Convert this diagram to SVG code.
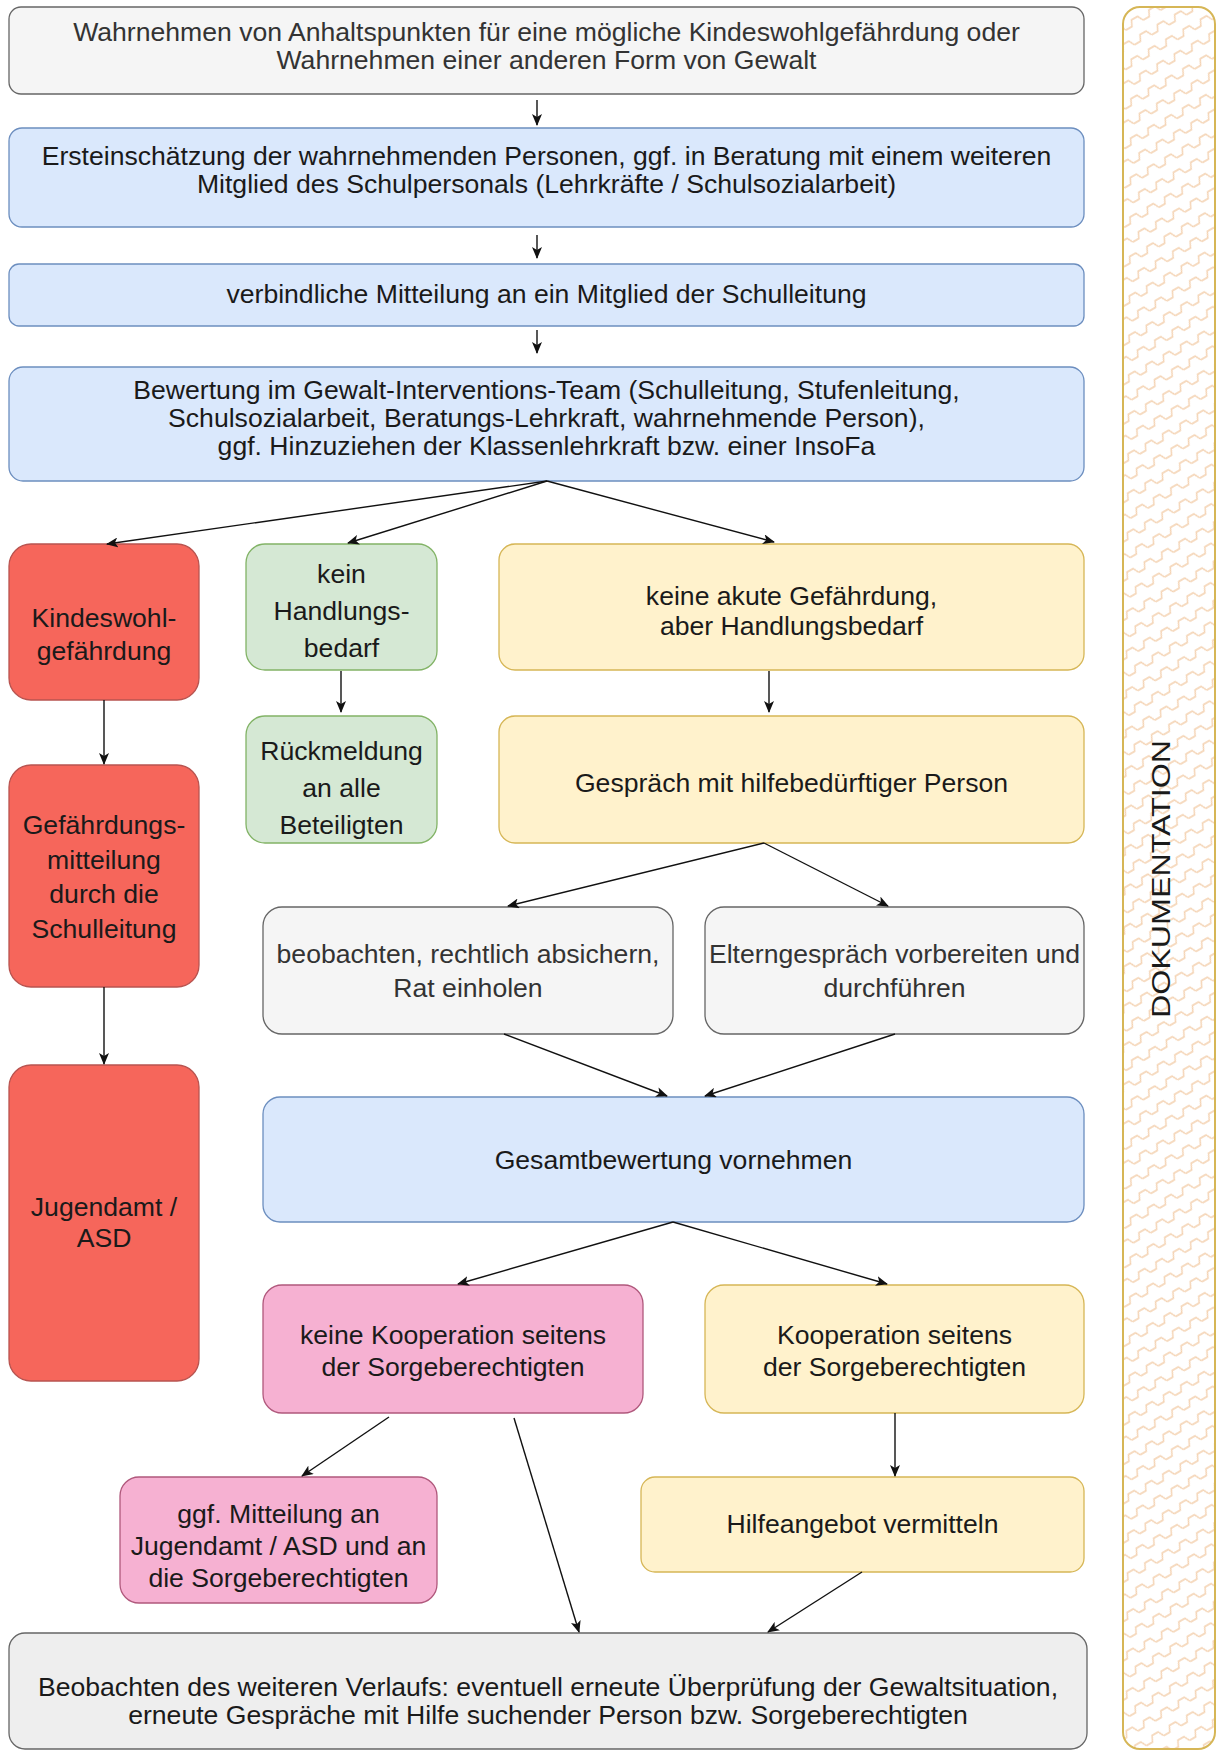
<svg xmlns="http://www.w3.org/2000/svg" width="1220" height="1754" viewBox="0 0 1220 1754">
<style>
  text { font-family: "Liberation Sans", Arial, Helvetica, sans-serif; font-size: 26.6px; text-anchor: middle; fill: #1a1a1a; }
  .gray rect { fill: #f5f5f5; stroke: #666666; stroke-width: 1.3; }
  .gray text { fill: #333333; }
  .gray2 rect { fill: #eeeeee; stroke: #666666; stroke-width: 1.3; }
  .blue rect { fill: #dae8fc; stroke: #6c8ebf; stroke-width: 1.3; }
  .red rect { fill: #f6665b; stroke: #b85450; stroke-width: 1.3; }
  .green rect { fill: #d5e8d4; stroke: #82b366; stroke-width: 1.3; }
  .yellow rect { fill: #fff2cc; stroke: #d6b656; stroke-width: 1.3; }
  .pink rect { fill: #f6b1d2; stroke: #b0587c; stroke-width: 1.3; }
  #connectors line { stroke: #111111; stroke-width: 1.4; fill: none; marker-end: url(#arr); }
</style>
<defs>
  <marker id="arr" viewBox="0 0 12 10" refX="11" refY="5" markerWidth="12" markerHeight="10" markerUnits="userSpaceOnUse" orient="auto">
    <path d="M0,0 L12,5 L0,10 L3,5 z" fill="#111111"/>
  </marker>
  <pattern id="zz" width="20" height="17" patternUnits="userSpaceOnUse" patternTransform="rotate(-30)">
    <path d="M0,11 L7,11 L10,5 L17,5 L20,11" fill="none" stroke="#f1c79e" stroke-width="1.3" opacity="0.85"/>
  </pattern>
</defs>
<rect x="0" y="0" width="1220" height="1754" fill="#ffffff"/>

<g id="doku">
  <rect x="1123" y="7" width="92" height="1742" rx="17" fill="#ffffff" stroke="none"/>
  <rect x="1123" y="7" width="92" height="1742" rx="17" fill="url(#zz)" stroke="#d6b656" stroke-width="2"/>
  <text transform="translate(1170,879) rotate(-90)" textLength="278" lengthAdjust="spacingAndGlyphs" style="font-size:26.6px">DOKUMENTATION</text>
</g>

<g id="n1" class="gray">
  <rect x="9" y="7" width="1075" height="87" rx="12"/>
  <text><tspan x="546.5" y="41">Wahrnehmen von Anhaltspunkten für eine mögliche Kindeswohlgefährdung oder</tspan><tspan x="546.5" y="69">Wahrnehmen einer anderen Form von Gewalt</tspan></text>
</g>
<g id="n2" class="blue">
  <rect x="9" y="128" width="1075" height="99" rx="13"/>
  <text><tspan x="546.5" y="164.5">Ersteinschätzung der wahrnehmenden Personen, ggf. in Beratung mit einem weiteren</tspan><tspan x="546.5" y="192.5">Mitglied des Schulpersonals (Lehrkräfte / Schulsozialarbeit)</tspan></text>
</g>
<g id="n3" class="blue">
  <rect x="9" y="264" width="1075" height="62" rx="10"/>
  <text x="546.5" y="303">verbindliche Mitteilung an ein Mitglied der Schulleitung</text>
</g>
<g id="n4" class="blue">
  <rect x="9" y="367" width="1075" height="114" rx="14"/>
  <text><tspan x="546.5" y="399">Bewertung im Gewalt-Interventions-Team (Schulleitung, Stufenleitung,</tspan><tspan x="546.5" y="427">Schulsozialarbeit, Beratungs-Lehrkraft, wahrnehmende Person),</tspan><tspan x="546.5" y="455">ggf. Hinzuziehen der Klassenlehrkraft bzw. einer InsoFa</tspan></text>
</g>

<g id="n5" class="red">
  <rect x="9" y="544" width="190" height="156" rx="22"/>
  <text><tspan x="104" y="627">Kindeswohl-</tspan><tspan x="104" y="660">gefährdung</tspan></text>
</g>
<g id="n6" class="green">
  <rect x="246" y="544" width="191" height="126" rx="19"/>
  <text><tspan x="341.5" y="582.5">kein</tspan><tspan x="341.5" y="619.5">Handlungs-</tspan><tspan x="341.5" y="656.5">bedarf</tspan></text>
</g>
<g id="n7" class="yellow">
  <rect x="499" y="544" width="585" height="126" rx="16"/>
  <text><tspan x="791.5" y="605">keine akute Gefährdung,</tspan><tspan x="791.5" y="635">aber Handlungsbedarf</tspan></text>
</g>
<g id="n8" class="red">
  <rect x="9" y="765" width="190" height="222" rx="22"/>
  <text><tspan x="104" y="834">Gefährdungs-</tspan><tspan x="104" y="868.5">mitteilung</tspan><tspan x="104" y="903">durch die</tspan><tspan x="104" y="937.5">Schulleitung</tspan></text>
</g>
<g id="n9" class="green">
  <rect x="246" y="716" width="191" height="127" rx="19"/>
  <text><tspan x="341.5" y="760">Rückmeldung</tspan><tspan x="341.5" y="797">an alle</tspan><tspan x="341.5" y="834">Beteiligten</tspan></text>
</g>
<g id="n10" class="yellow">
  <rect x="499" y="716" width="585" height="127" rx="16"/>
  <text x="791.5" y="792">Gespräch mit hilfebedürftiger Person</text>
</g>
<g id="n11" class="gray">
  <rect x="263" y="907" width="410" height="127" rx="19"/>
  <text><tspan x="468" y="963">beobachten, rechtlich absichern,</tspan><tspan x="468" y="996.5">Rat einholen</tspan></text>
</g>
<g id="n12" class="gray">
  <rect x="705" y="907" width="379" height="127" rx="19"/>
  <text><tspan x="894.5" y="963">Elterngespräch vorbereiten und</tspan><tspan x="894.5" y="996.5">durchführen</tspan></text>
</g>
<g id="n13" class="red">
  <rect x="9" y="1065" width="190" height="316" rx="22"/>
  <text><tspan x="104" y="1215.5">Jugendamt /</tspan><tspan x="104" y="1246.5">ASD</tspan></text>
</g>
<g id="n14" class="blue">
  <rect x="263" y="1097" width="821" height="125" rx="17"/>
  <text x="673.5" y="1169">Gesamtbewertung vornehmen</text>
</g>
<g id="n15" class="pink">
  <rect x="263" y="1285" width="380" height="128" rx="19"/>
  <text><tspan x="453" y="1344">keine Kooperation seitens</tspan><tspan x="453" y="1376">der Sorgeberechtigten</tspan></text>
</g>
<g id="n16" class="yellow">
  <rect x="705" y="1285" width="379" height="128" rx="19"/>
  <text><tspan x="894.5" y="1344">Kooperation seitens</tspan><tspan x="894.5" y="1376">der Sorgeberechtigten</tspan></text>
</g>
<g id="n17" class="pink">
  <rect x="120" y="1477" width="317" height="126" rx="19"/>
  <text><tspan x="278.5" y="1523">ggf. Mitteilung an</tspan><tspan x="278.5" y="1555">Jugendamt / ASD und an</tspan><tspan x="278.5" y="1587">die Sorgeberechtigten</tspan></text>
</g>
<g id="n18" class="yellow">
  <rect x="641" y="1477" width="443" height="95" rx="14"/>
  <text x="862.5" y="1533">Hilfeangebot vermitteln</text>
</g>
<g id="n19" class="gray2">
  <rect x="9" y="1633" width="1078" height="116" rx="16"/>
  <text><tspan x="548" y="1696">Beobachten des weiteren Verlaufs: eventuell erneute Überprüfung der Gewaltsituation,</tspan><tspan x="548" y="1724">erneute Gespräche mit Hilfe suchender Person bzw. Sorgeberechtigten</tspan></text>
</g>

<g id="connectors">
  <line x1="537" y1="100" x2="537" y2="125"/>
  <line x1="537" y1="235" x2="537" y2="258"/>
  <line x1="537" y1="330" x2="537" y2="353"/>
  <line x1="547" y1="481" x2="107" y2="544"/>
  <line x1="547" y1="481" x2="348" y2="543"/>
  <line x1="547" y1="481" x2="774" y2="542"/>
  <line x1="104" y1="700" x2="104" y2="764"/>
  <line x1="341" y1="671" x2="341" y2="712"/>
  <line x1="769" y1="671" x2="769" y2="712"/>
  <line x1="104" y1="987" x2="104" y2="1064"/>
  <line x1="764" y1="843" x2="508" y2="906"/>
  <line x1="764" y1="843" x2="888" y2="906"/>
  <line x1="504" y1="1034" x2="667" y2="1096"/>
  <line x1="895" y1="1034" x2="705" y2="1096"/>
  <line x1="673" y1="1222" x2="458" y2="1284"/>
  <line x1="673" y1="1222" x2="887" y2="1284"/>
  <line x1="895" y1="1413" x2="895" y2="1476"/>
  <line x1="389" y1="1417" x2="302" y2="1476"/>
  <line x1="514" y1="1418" x2="579" y2="1632"/>
  <line x1="862" y1="1572" x2="768" y2="1632"/>
</g>
</svg>
